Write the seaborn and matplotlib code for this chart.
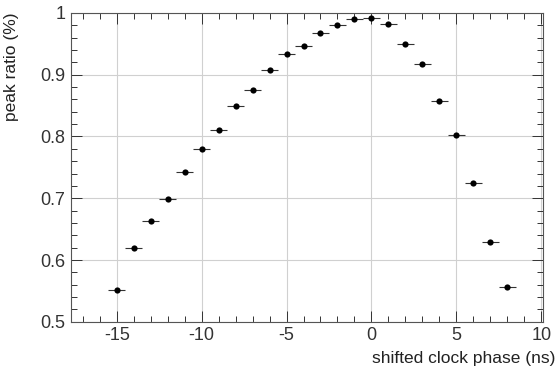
import numpy as np
import pandas as pd
import matplotlib
matplotlib.use("Agg")
import matplotlib.pyplot as plt
import seaborn as sns
from matplotlib.ticker import MultipleLocator

# data
phase = [-15, -14, -13, -12, -11, -10, -9, -8, -7, -6, -5, -4,
         -3, -2, -1, 0, 1, 2, 3, 4, 5, 6, 7, 8]
ratio = [0.552, 0.619, 0.663, 0.698, 0.742, 0.779, 0.811, 0.850,
         0.875, 0.908, 0.934, 0.947, 0.967, 0.980, 0.990, 0.991,
         0.982, 0.949, 0.918, 0.858, 0.803, 0.725, 0.629, 0.557]
phase_err = [0.5] * len(phase)
ratio_err = [0.003] * len(phase)

df = pd.DataFrame({"phase": phase, "ratio": ratio})

sns.set_theme(style="ticks")
plt.rcParams['font.family'] = ['Liberation Sans', 'DejaVu Sans']
plt.rcParams['axes.unicode_minus'] = False

fig = plt.figure(figsize=(5.58, 3.67), dpi=100)
ax = fig.add_axes([0.127, 0.123, 0.846, 0.842])

ax.errorbar(df["phase"], df["ratio"], xerr=phase_err, yerr=ratio_err,
            fmt="none", ecolor="#333333", elinewidth=0.8, capsize=0, zorder=2)
sns.scatterplot(data=df, x="phase", y="ratio", ax=ax, color="black",
                s=20, edgecolor="black", linewidth=0, zorder=3)

ax.set_xlim(-17.7, 10.1)
ax.set_ylim(0.5, 1.0)
ax.xaxis.set_major_locator(MultipleLocator(5))
ax.xaxis.set_minor_locator(MultipleLocator(1))
ax.yaxis.set_minor_locator(MultipleLocator(0.02))
ax.set_yticks([0.5, 0.6, 0.7, 0.8, 0.9, 1.0])
ax.set_yticklabels(["0.5", "0.6", "0.7", "0.8", "0.9", "1"])
ax.grid(True, which="major", color="#d0d0d0", linewidth=0.8)
ax.set_axisbelow(True)

ax.tick_params(which="both", direction="in", top=True, right=True,
               labelsize=13, colors="#333333", width=0.7)
ax.tick_params(which="major", length=8, pad=4)
ax.tick_params(which="minor", length=4)
for sp in ax.spines.values():
    sp.set_color("#555555")
    sp.set_linewidth(0.8)

ax.set_xlabel("shifted clock phase (ns)", fontsize=12.5, color="#222222",
              ha="right", x=1.0)
ax.set_ylabel("peak ratio (%)", fontsize=12.5, color="#222222",
              ha="right", y=1.0)
ax.xaxis.set_label_coords(1.027, -0.095)
ax.yaxis.set_label_coords(-0.11, 1.0)

fig.savefig("out.png", dpi=100)
